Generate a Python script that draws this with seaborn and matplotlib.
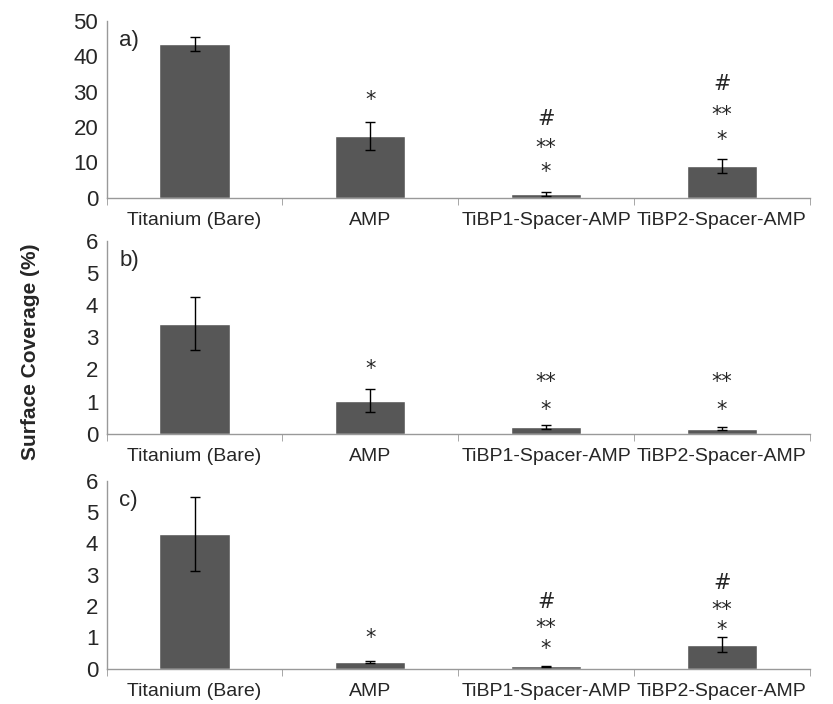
import numpy as np
import pandas as pd
import seaborn as sns
import matplotlib.pyplot as plt

# categories
groups = ["Titanium (Bare)", "AMP", "TiBP1-Spacer-AMP", "TiBP2-Spacer-AMP"]

# panel a
a_mean = [43.5, 17.5, 1.0, 9.0]
a_err = [2.0, 3.9, 0.6, 2.0]
a_marks = [[], [("*", 29.1)], [("*", 8.8), ("**", 15.5), ("#", 22.6)],
           [("*", 17.8), ("**", 24.9), ("#", 32.5)]]
# panel b
b_mean = [3.42, 1.03, 0.21, 0.16]
b_err = [0.82, 0.37, 0.07, 0.04]
b_marks = [[], [("*", 2.17)], [("*", 0.9), ("**", 1.77)], [("*", 0.9), ("**", 1.77)]]
# panel c
c_mean = [4.3, 0.22, 0.08, 0.77]
c_err = [1.18, 0.02, 0.01, 0.23]
c_marks = [[], [("*", 1.15)], [("*", 0.8), ("**", 1.47), ("#", 2.17)],
           [("*", 1.41), ("**", 2.04), ("#", 2.78)]]

panels = [("a)", a_mean, a_err, a_marks, 50, 10),
          ("b)", b_mean, b_err, b_marks, 6, 1),
          ("c)", c_mean, c_err, c_marks, 6, 1)]

sns.set_style("white")
plt.rcParams['font.family'] = ['Liberation Sans', 'DejaVu Sans']

fig = plt.figure(figsize=(8.33, 7.04), dpi=100)
boxes = [[0.128, 0.719, 0.844, 0.251],
         [0.128, 0.384, 0.844, 0.274],
         [0.128, 0.050, 0.844, 0.267]]

for box, (lab, mean, err, marks, ymax, step) in zip(boxes, panels):
    ax = fig.add_axes(box)
    df = pd.DataFrame({"group": groups, "value": mean})
    sns.barplot(data=df, x="group", y="value", color="#575757", saturation=1,
                width=0.4, errorbar=None, ax=ax)
    ax.errorbar(range(len(groups)), mean, yerr=err, fmt="none", ecolor="black",
                elinewidth=1, capsize=3.5, capthick=1)
    for i, mk in enumerate(marks):
        for txt, y in mk:
            # asterisks sit high in the glyph box, nudge them down a bit
            dy = -5 if "*" in txt else -1
            ax.annotate(txt, (i, y), xytext=(0, dy), textcoords="offset pixels",
                        ha="center", va="center", fontsize=15, family="DejaVu Sans")
    ax.set_xlim(-0.5, 3.5)
    ax.set_ylim(0, ymax)
    ax.set_yticks(np.arange(0, ymax + step / 2, step))
    ax.set_xlabel("")
    ax.set_ylabel("")
    ax.set_xticks(np.arange(-0.5, 4.0, 1.0), minor=True)
    ax.tick_params(axis="x", which="major", length=0, labelsize=14, pad=10)
    ax.tick_params(axis="x", which="minor", length=5, color="#999999", direction="out", bottom=True)
    ax.tick_params(axis="y", labelsize=16, length=0, pad=6)
    for s in ["top", "right"]:
        ax.spines[s].set_visible(False)
    for s in ["left", "bottom"]:
        ax.spines[s].set_color("#999999")
        ax.spines[s].set_linewidth(1)
    ax.text(0.018, 0.95, lab, transform=ax.transAxes, fontsize=16, va="top", ha="left")

fig.text(0.037, 0.5, "Surface Coverage (%)", rotation=90, ha="center", va="center",
         fontsize=15, fontweight="bold")

fig.savefig("out.png", dpi=100)
